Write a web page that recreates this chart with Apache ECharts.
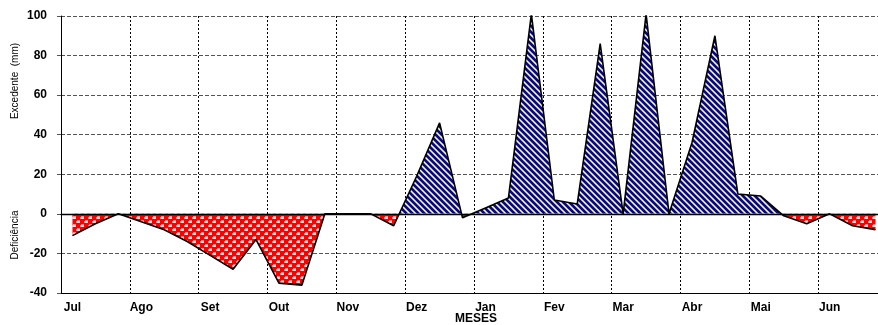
<!DOCTYPE html>
<html>
<head>
<meta charset="utf-8">
<script src="https://cdn.jsdelivr.net/npm/echarts@6/dist/echarts.min.js"></script>
<style>
html,body{margin:0;padding:0;background:#fff;overflow:hidden;}
#c{width:878px;height:325px;}
</style>
</head>
<body>
<div id="c"></div>
<script>
// ---- data (10-day periods, 3 per month) ----
const months = ['Jul','Ago','Set','Out','Nov','Dez','Jan','Fev','Mar','Abr','Mai','Jun'];
const values = [
  -11, -5, 0,
  -4, -8, -14,
  -21, -28, -13,
  -35, -36, 0,
  0, 0, -6,
  19, 46, -2,
  3, 8, 101,
  7, 5, 86,
  0, 101, 0,
  36, 90, 10,
  9, -1, -5,
  0, -6, -8
];
const yTicks = { min: -40, max: 100, interval: 20 };
const yTitleUp = 'Excedente  (mm)';
const yTitleDown = 'Deficiência';
const xTitle = 'MESES';

// periods are placed at the centre of each 10-day slot (index + 0.5)
const points = values.map((v, i) => [i + 0.5, v]);
const perMonth = 3;

// ---- fill patterns ----
function stripePattern() {
  const P = 6, c = document.createElement('canvas');
  c.width = P; c.height = P;
  const ctx = c.getContext('2d');
  const img = ctx.createImageData(P, P);
  for (let y = 0; y < P; y++) for (let x = 0; x < P; x++) {
    const d = ((x - y) % P + P) % P;
    let r, g, b;
    if (d < 3) { r = 10; g = 10; b = 120; }
    else if (d === 3 || d === 5) { r = 150; g = 150; b = 200; }
    else { r = 245; g = 245; b = 250; }
    const i = (y * P + x) * 4;
    img.data[i] = r; img.data[i+1] = g; img.data[i+2] = b; img.data[i+3] = 255;
  }
  ctx.putImageData(img, 0, 0);
  return c;
}
function dotPattern() {
  const c = document.createElement('canvas');
  c.width = 8; c.height = 8;
  const ctx = c.getContext('2d');
  ctx.fillStyle = '#ff0000'; ctx.fillRect(0, 0, 8, 8);
  ctx.fillStyle = '#ffe0e0';
  ctx.fillRect(1, 1, 3, 2); ctx.fillRect(5, 5, 3, 2);
  ctx.fillStyle = '#ff9090';
  ctx.fillRect(0, 1, 1, 2); ctx.fillRect(4, 5, 1, 2);
  ctx.fillRect(1, 0, 3, 1); ctx.fillRect(5, 4, 3, 1);
  return c;
}

const L = 61, T = 16, H = 277;
const slotPx = 826 / 36;                // width of one 10-day slot
const xMax = (878 - L) / slotPx;        // plot continues past the right edge of the picture
const pxPer = H / (yTicks.max - yTicks.min);
const zeroY = T + yTicks.max * pxPer;

const chart = echarts.init(document.getElementById('c'), null, { renderer: 'canvas' });
const labelFont = { fontFamily: 'Liberation Sans, Arial, sans-serif', fontWeight: 'bold', fontSize: 12, color: '#000' };

function xAxisBase(grid) {
  return {
    gridIndex: grid, type: 'value', min: 0, max: xMax, interval: perMonth,
    axisLine: { show: false }, axisTick: { show: false }, axisLabel: { show: false }, splitLine: { show: false }
  };
}

chart.setOption({
  animation: false,
  backgroundColor: '#fff',
  grid: [
    { left: L, top: T, right: 0, height: H },
    { left: L, top: T, right: 0, height: zeroY - T },
    { left: L, top: zeroY, right: 0, height: T + H - zeroY }
  ],
  xAxis: [
    Object.assign(xAxisBase(0), {
      axisLine: { show: true, onZero: false, lineStyle: { color: '#000', width: 1 } },
      axisLabel: Object.assign({
        show: true,
        margin: 9,
        align: 'center',
        padding: [0, 0, 0, slotPx],
        showMaxLabel: false,
        formatter: (v) => {
          const k = Math.round(v / perMonth);
          return Math.abs(v - k * perMonth) < 1e-6 ? (months[k] || '') : '';
        }
      }, labelFont),
      splitLine: { show: true, lineStyle: { color: '#000', type: [2, 2], width: 1 } }
    }),
    Object.assign(xAxisBase(1), {
      z: 5,
      axisLine: { show: true, onZero: false, lineStyle: { color: '#000', width: 1.3 } }
    }),
    xAxisBase(2)
  ],
  yAxis: [
    {
      gridIndex: 0, type: 'value', min: yTicks.min, max: yTicks.max, interval: yTicks.interval,
      axisLine: { show: true, lineStyle: { color: '#000', width: 1 } },
      axisTick: { show: true, length: 4, lineStyle: { color: '#555' } },
      axisLabel: Object.assign({ margin: 14 }, labelFont),
      splitLine: { show: true, lineStyle: { color: '#555', type: [4, 2], width: 1 } }
    },
    {
      gridIndex: 1, type: 'value', min: 0, max: yTicks.max,
      axisLine: { show: false }, axisTick: { show: false }, axisLabel: { show: false }, splitLine: { show: false }
    },
    {
      gridIndex: 2, type: 'value', min: yTicks.min, max: 0,
      axisLine: { show: false }, axisTick: { show: false }, axisLabel: { show: false }, splitLine: { show: false }
    }
  ],
  series: [
    {
      name: 'Deficiência', type: 'line', xAxisIndex: 2, yAxisIndex: 2, data: points,
      symbol: 'none', clip: true, z: 2,
      lineStyle: { width: 0 },
      areaStyle: { origin: 0, opacity: 1, color: { image: dotPattern(), repeat: 'repeat' } }
    },
    {
      name: 'Excedente', type: 'line', xAxisIndex: 1, yAxisIndex: 1, data: points,
      symbol: 'none', clip: true, z: 2,
      lineStyle: { width: 0 },
      areaStyle: { origin: 0, opacity: 1, color: { image: stripePattern(), repeat: 'repeat' } }
    },
    {
      name: 'linha', type: 'line', xAxisIndex: 0, yAxisIndex: 0, data: points,
      symbol: 'none', clip: true, z: 4,
      lineStyle: { color: '#000', width: 1.6 }
    }
  ],
  graphic: [
    { type: 'text', x: 15, y: 81, rotation: Math.PI / 2,
      style: { text: yTitleUp, fill: '#000', font: '10px "Liberation Sans", Arial, sans-serif', align: 'center', verticalAlign: 'middle' } },
    { type: 'text', x: 15, y: 235, rotation: Math.PI / 2,
      style: { text: yTitleDown, fill: '#000', font: '10px "Liberation Sans", Arial, sans-serif', align: 'center', verticalAlign: 'middle' } },
    { type: 'text', x: 476, y: 319,
      style: { text: xTitle, fill: '#000', font: 'bold 12px "Liberation Sans", Arial, sans-serif', align: 'center', verticalAlign: 'middle' } }
  ]
});
</script>
</body>
</html>
